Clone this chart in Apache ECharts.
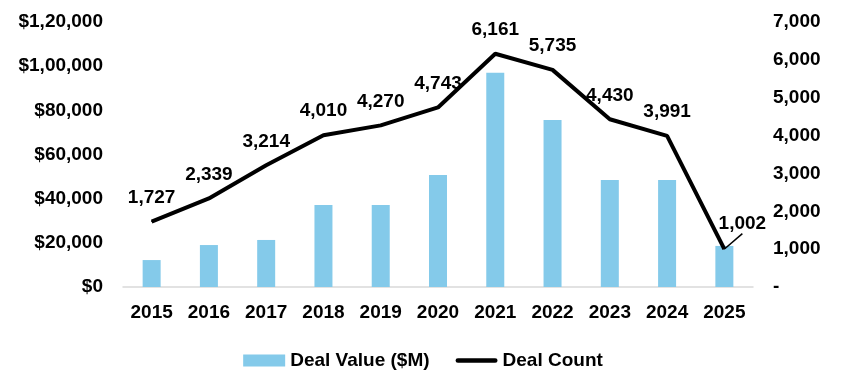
<!DOCTYPE html>
<html><head><meta charset="utf-8">
<script src="https://cdn.jsdelivr.net/npm/echarts@6/dist/echarts.min.js"></script>
<style>html,body{margin:0;padding:0;background:#fff}#c{width:846px;height:390px}</style>
</head><body><div id="c"></div>
<script>
var years = ['2015','2016','2017','2018','2019','2020','2021','2022','2023','2024','2025'];
var dealValue = [12200, 19000, 21300, 37100, 37100, 50700, 97000, 75600, 48500, 48500, 18600];
var dealCount = [1727, 2339, 3214, 4010, 4270, 4743, 6161, 5735, 4430, 3991, 1002];

function indianFmt(n){
  var s = String(Math.round(n));
  if (s.length <= 3) return s;
  var last3 = s.slice(-3), rest = s.slice(0, -3);
  rest = rest.replace(/\B(?=(\d{2})+(?!\d))/g, ',');
  return rest + ',' + last3;
}
function westFmt(n){ return String(n).replace(/\B(?=(\d{3})+(?!\d))/g, ','); }

var FONT = '"Liberation Sans", Arial, sans-serif';
var FS = 19;
var chart = echarts.init(document.getElementById('c'));
chart.setOption({
  animation: false,
  textStyle: {fontFamily: FONT},
  grid: {left: 123, right: 93, top: 22, bottom: 103},
  legend: {
    top: 346, left: 'center', itemGap: 26, itemWidth: 42, itemHeight: 12,
    textStyle: {fontFamily: FONT, fontWeight: 'bold', fontSize: FS, color: '#000'},
    data: [
      {name: 'Deal Value ($M)', icon: 'rect'},
      {name: 'Deal Count', icon: 'path://M2,0 L42,0 A2.5,2.5 0 0 1 42,5 L2,5 A2.5,2.5 0 0 1 2,0 Z', itemStyle: {color: '#000'}}
    ]
  },
  xAxis: {
    type: 'category', data: years,
    axisLine: {lineStyle: {color: '#d9d9d9', width: 1.5}},
    axisTick: {show: false},
    axisLabel: {color: '#000', fontWeight: 'bold', fontSize: FS, margin: 16, fontFamily: FONT}
  },
  yAxis: [{
    type: 'value', min: 0, max: 120000, interval: 20000,
    splitLine: {show: false}, axisLine: {show: false}, axisTick: {show: false},
    axisLabel: {color: '#000', fontWeight: 'bold', fontSize: FS, margin: 20, fontFamily: FONT,
      formatter: function(v){ return '$' + indianFmt(v); }}
  }, {
    type: 'value', min: 0, max: 7000, interval: 1000,
    splitLine: {show: false}, axisLine: {show: false}, axisTick: {show: false},
    axisLabel: {color: '#000', fontWeight: 'bold', fontSize: FS, margin: 20, fontFamily: FONT,
      formatter: function(v){ return v === 0 ? '-' : westFmt(v); }}
  }],
  series: [{
    name: 'Deal Value ($M)', type: 'bar', data: dealValue, barWidth: 18,
    itemStyle: {color: '#84CAEA'}
  }, {
    name: 'Deal Count', type: 'line', yAxisIndex: 1,
    data: dealCount.map(function(v, i){
      if (i === dealCount.length - 1) return {value: v, labelLine: {show: true, lineStyle: {color: '#000', width: 1.5}}};
      return v;
    }),
    symbol: 'circle', symbolSize: 1, showSymbol: true,
    lineStyle: {color: '#000', width: 4}, itemStyle: {color: '#000'},
    label: {show: true, position: 'top', distance: 14, color: '#000', fontWeight: 'bold', fontSize: FS,
      fontFamily: FONT, formatter: function(p){ return westFmt(p.value); }},
    labelLayout: function(p){
      if (p.dataIndex === dealCount.length - 1) return {dx: 18, dy: -1};
      return {};
    },
    labelLine: {show: false}
  }]
});
</script></body></html>
